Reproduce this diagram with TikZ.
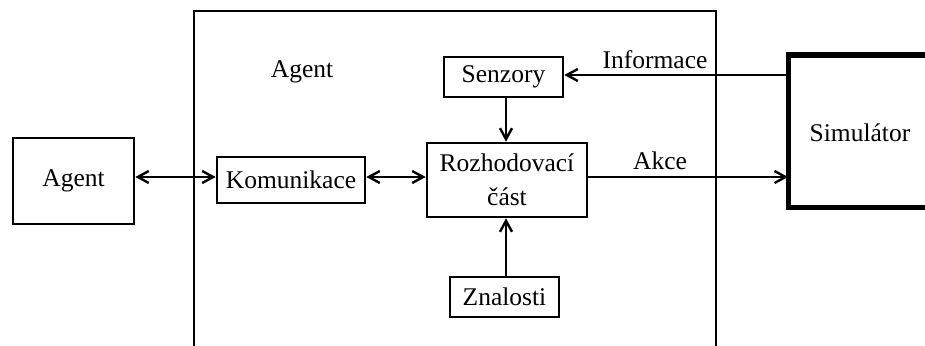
\documentclass[tikz,border=0pt]{standalone}
\usepackage{fontspec}
\setmainfont{Liberation Serif}
\newfontfamily\diagfont{Liberation Serif}
\usetikzlibrary{arrows.meta}
\begin{document}
\begin{tikzpicture}[x=1pt,y=-1pt,
  every node/.style={font=\diagfont\fontsize{25.5}{34}\selectfont},
  box/.style={draw,line width=2.6pt,inner sep=0pt,align=center},
  conn/.style={line width=2.6pt,-{Straight Barb[length=11pt,width=12pt,line width=2.4pt]}},
  biconn/.style={line width=2.6pt,{Straight Barb[length=11pt,width=12pt,line width=2.4pt]}-{Straight Barb[length=11pt,width=12pt,line width=2.4pt]}}]
\useasboundingbox (0,0) rectangle (925,345);
% outer agent frame, open at the bottom
\draw[line width=2pt] (194,360) -- (194,11) -- (716,11) -- (716,360);
\node (agentlbl) at (302,72) {Agent};
% simulator, cut at the right edge
\draw[line width=5pt] (940,55) -- (788,55) -- (788,207) -- (940,207);
\coordinate (simtop) at (788,75);
\coordinate (simmid) at (788,177);
\node (simlbl) at (860,133) {Simulátor};
% inner blocks
\node[box,minimum width=121pt,minimum height=86pt] (agent2) at (73.5,181) {Agent};
\node[box,minimum width=148pt,minimum height=46pt] (komu) at (291,180) {Komunikace};
\node[box,minimum width=160pt,minimum height=74pt] (rozh) at (507,180) {Rozhodovací\\část};
\node[box,minimum width=119pt,minimum height=40pt] (senz) at (503.5,77) {Senzory};
\node[box,minimum width=109pt,minimum height=40pt] (znal) at (504.5,297) {Znalosti};
% connectors
\draw[biconn] (agent2.east |- 0,177) -- (komu.west |- 0,177);
\draw[biconn] (komu.east |- 0,177) -- (rozh.west |- 0,177);
\draw[conn] (senz.south -| 506,0) -- (rozh.north -| 506,0);
\draw[conn] (znal.north -| 506,0) -- (rozh.south -| 506,0);
\draw[conn] (simtop) -- (senz.east |- simtop);
\draw[conn] (rozh.east |- simmid) -- (simmid);
\node (inflbl) at (655,60) {Informace};
\node (akcelbl) at (660,161) {Akce};
\end{tikzpicture}
\end{document}
